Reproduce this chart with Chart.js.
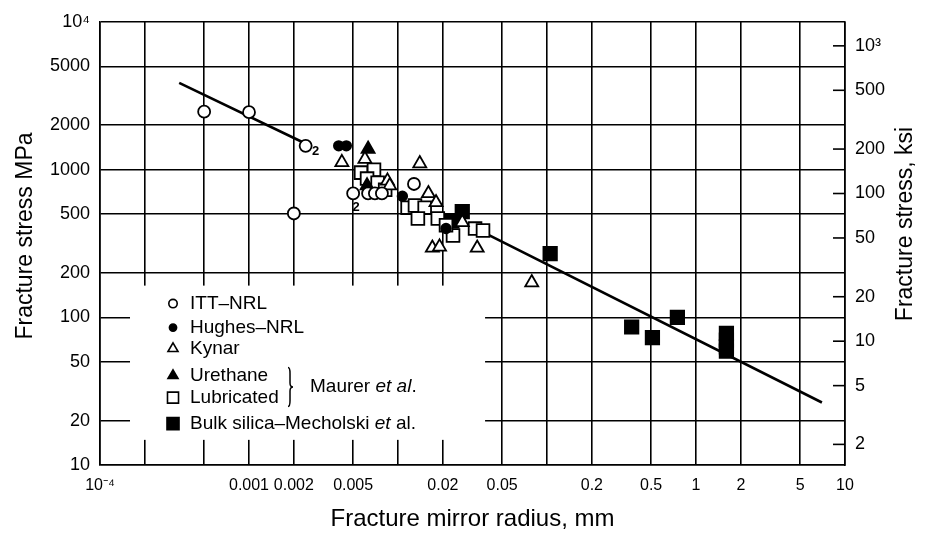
<!DOCTYPE html>
<html><head><meta charset="utf-8">
<script src="https://cdn.jsdelivr.net/npm/chart.js@4.4.1/dist/chart.umd.min.js"></script>
<style>html,body{margin:0;padding:0;background:#fff}#wrap{width:927px;height:533px}</style>
</head><body><div id="wrap"><canvas id="c" width="927" height="533"></canvas></div>
<script>
// ---- tick definitions ----
const xTicks = [1e-4,2e-4,5e-4,0.001,0.002,0.005,0.01,0.02,0.05,0.1,0.2,0.5,1,2,5,10];
const xTickLabels = ['10\u207B\u2074','','','0.001','0.002','0.005','','0.02','0.05','','0.2','0.5','1','2','5','10'];
const yTicks = [10,20,50,100,200,500,1000,2000,5000,10000];
const yTickLabels = ['10','20','50','100','200','500','1000','2000','5000','10\u2074'];
const ksiTicks = [2,5,10,20,50,100,200,500,1000];
const ksiTickLabels = ['2','5','10','20','50','100','200','500','10\u00B3'];
const MPA_PER_KSI = 6.895;

// ---- data (mirror radius mm, fracture stress MPa) ----
const ittX = [0.0005, 0.001, 0.0024, 0.002, 0.005, 0.0063, 0.007, 0.0078, 0.0128];
const ittY = [2470, 2450, 1450, 505, 690, 690, 690, 690, 800];
const hughesX = [0.004, 0.0045, 0.0107, 0.021];
const hughesY = [1450, 1450, 660, 400];
const kynarX = [0.0042, 0.006, 0.0085, 0.0088, 0.014, 0.016, 0.018, 0.017, 0.019, 0.027, 0.034, 0.079];
const kynarY = [1120, 1180, 840, 780, 1100, 690, 600, 295, 300, 440, 295, 172];
const urethaneX = [0.0063, 0.0062];
const urethaneY = [1380, 780];
const lubricatedX = [0.00565, 0.0069, 0.0062, 0.0073, 0.0082, 0.0116, 0.013, 0.0151, 0.0136, 0.0185, 0.0234, 0.0329, 0.0372, 0.021];
const lubricatedY = [955, 1000, 870, 815, 730, 553, 572, 553, 467, 467, 358, 399, 387, 420];
const bulkX = [0.027, 0.023, 0.105, 0.37, 0.51, 0.75, 1.6, 1.6, 1.6, 1.6];
const bulkY = [520, 450, 270, 86, 73, 100, 78, 70, 63, 59];
const fitX = [3.4e-4, 0.00226, 0.0025, 0.0355, 7.0];
const fitY = [3870, 1545, null, 387, 26.5];

// legend
const legendLabels = ['ITT\u2013NRL', 'Hughes\u2013NRL', 'Kynar', 'Urethane', 'Lubricated', 'Bulk silica\u2013Mecholski '];
const legendBoxX = [1.59e-4, 0.0384];
const legendBoxY = [14.8, 164];
// "2" multiplicity annotations
const multX = [0.0024, 0.005];
const multY = [1450, 690];

const FONT = "'Liberation Sans', Arial, Helvetica, sans-serif";
const pts = (xs, ys) => xs.map((v, i) => ({x: v, y: ys[i]}));

const styles = [
  {pointStyle:'circle', r:6, fill:'#fff'},
  {pointStyle:'circle', r:4.8, fill:'#000'},
  {pointStyle:'triangle', r:7.5, fill:'#fff'},
  {pointStyle:'triangle', r:7.5, fill:'#000'},
  {pointStyle:'rect', r:9, fill:'#fff'},
  {pointStyle:'rect', r:9.5, fill:'#000'}
];

function mkScatter(label, xs, ys, st) {
  return {type:'scatter', label, data: pts(xs, ys), pointStyle: st.pointStyle, pointRadius: st.r,
    pointBackgroundColor: st.fill, pointBorderColor:'#000', pointBorderWidth:1.8, showLine:false};
}

function rotText(ctx, text, cx, cy, size) {
  ctx.save();
  ctx.fillStyle = '#000';
  ctx.font = `${size}px ${FONT}`;
  ctx.textAlign = 'center'; ctx.textBaseline = 'middle';
  ctx.translate(cx, cy); ctx.rotate(-Math.PI / 2);
  ctx.fillText(text, 0, 0);
  ctx.restore();
}

const overlay = {
  id: 'overlay',
  beforeDatasetsDraw(chart) {
    const {ctx, scales:{x, y}} = chart;
    const l = x.getPixelForValue(legendBoxX[0]), r = x.getPixelForValue(legendBoxX[1]);
    const t = y.getPixelForValue(legendBoxY[1]), b = y.getPixelForValue(legendBoxY[0]);
    ctx.save(); ctx.fillStyle = '#fff'; ctx.fillRect(l, t, r - l, b - t); ctx.restore();
  },
  afterDatasetsDraw(chart) {
    const {ctx, chartArea, scales:{x, y, y2}} = chart;
    // axis titles (both read bottom to top)
    rotText(ctx, 'Fracture stress MPa', 26, 236, 23);
    rotText(ctx, 'Fracture stress, ksi', 906, 224, 23);
    ctx.save();
    // right axis inner ticks
    ctx.strokeStyle = '#000'; ctx.lineWidth = 1.6;
    ksiTicks.forEach(v => {
      const py = y2.getPixelForValue(v);
      ctx.beginPath(); ctx.moveTo(chartArea.right - 12, py); ctx.lineTo(chartArea.right, py); ctx.stroke();
    });
    ctx.fillStyle = '#000';
    ctx.textAlign = 'center'; ctx.textBaseline = 'middle';
    // multiplicity labels
    ctx.font = `bold 13px ${FONT}`;
    ctx.fillText('2', x.getPixelForValue(multX[0]) + 10, y.getPixelForValue(multY[0]) + 6);
    ctx.fillText('2', x.getPixelForValue(multX[1]) + 3, y.getPixelForValue(multY[1]) + 14);
    // legend
    const lx = x.getPixelForValue(legendBoxX[0]);
    const ly = y.getPixelForValue(legendBoxY[1]);
    const symX = lx + 43, txtX = lx + 60;
    const rows = [18, 42, 63, 90, 112, 138];
    const sizes = [4.2, 3.6, 5.8, 5.8, 7.8, 8.5];
    legendLabels.forEach((lab, i) => {
      const yy = ly + rows[i];
      const st = styles[i];
      ctx.fillStyle = st.fill; ctx.strokeStyle = '#000'; ctx.lineWidth = 1.6;
      Chart.helpers.drawPoint(ctx, {pointStyle: st.pointStyle, radius: sizes[i], borderWidth: 1.6}, symX, yy);
      ctx.fillStyle = '#000';
      ctx.font = `19px ${FONT}`; ctx.textAlign = 'left'; ctx.textBaseline = 'middle';
      ctx.fillText(lab, txtX, yy);
      if (i === 5) {
        const w = ctx.measureText(lab).width;
        ctx.font = `italic 19px ${FONT}`;
        const w2 = ctx.measureText('et').width;
        ctx.fillText('et', txtX + w, yy);
        ctx.font = `19px ${FONT}`;
        ctx.fillText(' al.', txtX + w + w2, yy);
      }
    });
    // brace + Maurer et al.
    const bx = lx + 160, bt = ly + 82, bb = ly + 121;
    const bm = (bt + bb) / 2;
    ctx.strokeStyle = '#000'; ctx.lineWidth = 1.5;
    ctx.beginPath();
    ctx.moveTo(bx - 2, bt); ctx.quadraticCurveTo(bx, bt, bx, bt + 6);
    ctx.lineTo(bx, bm - 4); ctx.quadraticCurveTo(bx, bm, bx + 3, bm);
    ctx.quadraticCurveTo(bx, bm, bx, bm + 4);
    ctx.lineTo(bx, bb - 6); ctx.quadraticCurveTo(bx, bb, bx - 2, bb);
    ctx.stroke();
    ctx.fillStyle = '#000';
    ctx.font = `19px ${FONT}`;
    const mx = bx + 20;
    const m1 = 'Maurer ';
    ctx.fillText(m1, mx, bm);
    let w = ctx.measureText(m1).width;
    ctx.font = `italic 19px ${FONT}`;
    ctx.fillText('et al', mx + w, bm);
    w += ctx.measureText('et al').width;
    ctx.font = `19px ${FONT}`;
    ctx.fillText('.', mx + w, bm);
    ctx.restore();
  }
};

const gridOpt = {color:'#000', lineWidth:1.6, drawTicks:false};
new Chart(document.getElementById('c'), {
  data: {
    datasets: [
      mkScatter('ITT\u2013NRL', ittX, ittY, styles[0]),
      mkScatter('Hughes\u2013NRL', hughesX, hughesY, styles[1]),
      mkScatter('Kynar', kynarX, kynarY, styles[2]),
      mkScatter('Urethane', urethaneX, urethaneY, styles[3]),
      mkScatter('Lubricated', lubricatedX, lubricatedY, styles[4]),
      mkScatter('Bulk silica\u2013Mecholski et al.', bulkX, bulkY, styles[5]),
      {type:'line', label:'fit', data: pts(fitX, fitY), borderColor:'#000', borderWidth:2.6,
       pointRadius:0, spanGaps:false, fill:false, tension:0}
    ]
  },
  options: {
    responsive:false, animation:false, devicePixelRatio:1,
    layout: {padding:{top:22, left:0, right:0, bottom:0}},
    plugins: {legend:{display:false}, tooltip:{enabled:false}},
    scales: {
      x: {type:'logarithmic', position:'bottom', min:1e-4, max:10,
        afterBuildTicks: s => { s.ticks = xTicks.map(v => ({value:v})); },
        afterFit: s => { s.height = 68; },
        ticks: {autoSkip:false, maxRotation:0, padding:11, color:'#000', font:{family:FONT, size:16},
          callback: (v, i) => xTickLabels[i]},
        grid: gridOpt, border:{color:'#000', width:1.6},
        title: {display:true, text:'Fracture mirror radius, mm', color:'#000', font:{family:FONT, size:24}, padding:{top:0, bottom:-1}}
      },
      y: {type:'logarithmic', position:'left', min:10, max:10000,
        afterBuildTicks: s => { s.ticks = yTicks.map(v => ({value:v})); },
        afterFit: s => { s.width = 100; },
        ticks: {autoSkip:false, padding:10, color:'#000', font:{family:FONT, size:18},
          callback: (v, i) => yTickLabels[i]},
        grid: gridOpt, border:{color:'#000', width:1.6}
      },
      y2: {type:'logarithmic', position:'right', min:10 / MPA_PER_KSI, max:10000 / MPA_PER_KSI,
        afterBuildTicks: s => { s.ticks = ksiTicks.map(v => ({value:v})); },
        afterFit: s => { s.width = 82; },
        ticks: {autoSkip:false, padding:10, color:'#000', font:{family:FONT, size:18},
          callback: (v, i) => ksiTickLabels[i]},
        grid: {display:false, drawTicks:false}, border:{color:'#000', width:1.6}
      }
    }
  },
  plugins: [overlay]
});
</script>
</body></html>
